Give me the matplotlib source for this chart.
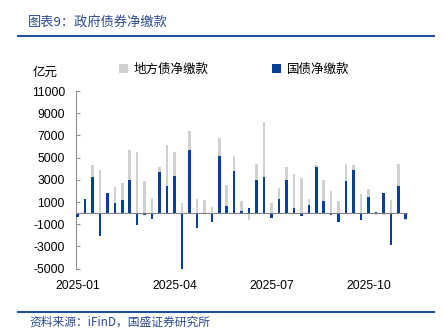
import matplotlib
matplotlib.use("Agg")
import matplotlib.pyplot as plt
import numpy as np

plt.rcParams['font.family'] = ['Liberation Sans', 'Noto Sans CJK SC', 'DejaVu Sans']
plt.rcParams['axes.unicode_minus'] = False

# 周度净缴款（亿元），2025年1月起
guozhai = [-330, 1320, 3270, -2070, 1830, 900, 1170, 2970, -1110, -180,
           -540, 3720, 2430, 3360, -5070, 5680, -1380, 0, -840, 5160,
           690, 3840, 240, 450, 3000, 3220, -480, 1320, 2970, 510,
           -270, 780, 4170, 1110, -150, -780, 2910, 3870, -630, 1470,
           100, 1830, -2910, 2430, -540]
difangzhai = [0, 0, 1050, 3870, 0, 1440, 1530, 2710, 5500, 2860,
              1380, 450, 3750, 2110, 960, 1730, 1320, 1170, 600, 1570,
              1890, 1350, 870, -630, 1440, 5010, 900, 930, 1170, 3000,
              3130, 540, 130, 1890, 1980, 1110, 1530, 450, 1710, 670,
              -150, -200, 1230, 2010, -100]
xtick_pos = [0, 13, 26, 39]
xtick_labels = ['2025-01', '2025-04', '2025-07', '2025-10']
yticks = list(range(-5000, 11001, 2000))

blue = '#0A3F97'
gray = '#D0D0D0'
line_blue = '#1F4EA3'
text_blue = '#2B4A8E'

gz = np.array(guozhai, dtype=float)
dfz = np.array(difangzhai, dtype=float)
x = np.arange(len(gz))
# 同号时地方债叠在国债之上
bottom = np.where(np.sign(gz) == np.sign(dfz), gz, 0)

fig = plt.figure(figsize=(4.44, 3.35), dpi=100)
ax = fig.add_axes([76 / 444, 1 - 268.7 / 335, 332 / 444, 177.7 / 335])

w = 0.34
ax.bar(x, gz, width=w, color=blue, label='国债净缴款', zorder=3)
ax.bar(x, dfz, width=w, bottom=bottom, color=gray, label='地方债净缴款', zorder=2)
ax.axhline(0, color='#808080', lw=0.8, zorder=4)

ax.set_xlim(-0.2, 44.3)
ax.set_ylim(-5000, 11000)
ax.set_yticks(yticks)
ax.set_yticklabels([str(v) for v in yticks])
ax.set_xticks(xtick_pos)
ax.set_xticklabels(xtick_labels)

for s in ['top', 'right', 'bottom']:
    ax.spines[s].set_visible(False)
ax.spines['left'].set_color('#909090')
ax.spines['left'].set_linewidth(0.8)
ax.tick_params(axis='y', direction='in', length=3, color='#909090', pad=8,
               labelsize=8.7, labelcolor='black')
ax.tick_params(axis='x', length=0, pad=8, labelsize=8.7, labelcolor='black')

h, l = ax.get_legend_handles_labels()
ax.legend(h[::-1], l[::-1], ncol=2, loc='center left',
          bbox_to_anchor=(119 / 444, 1 - 69 / 335), bbox_transform=fig.transFigure,
          frameon=False, handlelength=0.7, handleheight=0.7, handletextpad=0.45,
          columnspacing=5.1, borderpad=0, borderaxespad=0,
          prop={'family': ['Noto Sans CJK SC'], 'size': 9})

fig.text(45 / 444, 1 - 72 / 335, '亿元', ha='center', va='center',
         family=['Noto Sans CJK SC'], fontsize=9)

# 标题与来源
fig.text(28 / 444, 1 - 22 / 335, '图表9：政府债券净缴款', ha='left', va='center',
         family=['Noto Sans CJK SC'], fontsize=9.5, style='italic', color=text_blue)
fig.add_artist(plt.Line2D([18 / 444, 434 / 444], [1 - 36 / 335, 1 - 36 / 335],
                          color=line_blue, lw=1.5))
fig.add_artist(plt.Line2D([18 / 444, 434 / 444], [1 - 312 / 335, 1 - 312 / 335],
                          color=line_blue, lw=1.5))
fig.text(29 / 444, 1 - 322 / 335, '资料来源：iFinD，国盛证券研究所', ha='left', va='center',
         family=['Noto Sans CJK SC', 'DejaVu Sans'], fontsize=8.5, style='italic',
         color=text_blue)

fig.savefig('out.png', dpi=100)
